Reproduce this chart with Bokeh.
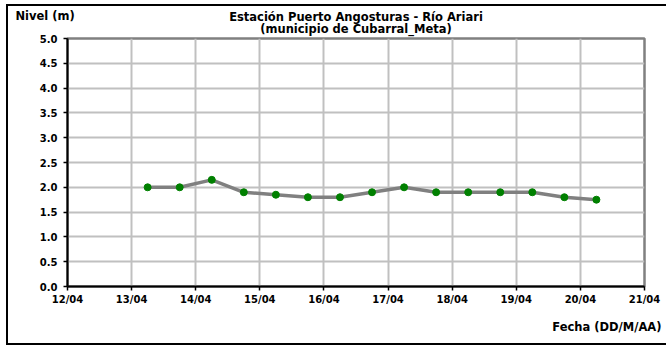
from datetime import datetime
from bokeh.plotting import figure
from bokeh.models import (FixedTicker, DatetimeTickFormatter, NumeralTickFormatter,
                          Title, ColumnDataSource)
from bokeh.embed import file_html
from bokeh.resources import INLINE

# ---- data ----
times = [
    "2021-04-13 06:00", "2021-04-13 18:00", "2021-04-14 06:00", "2021-04-14 18:00",
    "2021-04-15 06:00", "2021-04-15 18:00", "2021-04-16 06:00", "2021-04-16 18:00",
    "2021-04-17 06:00", "2021-04-17 18:00", "2021-04-18 06:00", "2021-04-18 18:00",
    "2021-04-19 06:00", "2021-04-19 18:00", "2021-04-20 06:00",
]
nivel = [2.0, 2.0, 2.15, 1.9, 1.85, 1.8, 1.8, 1.9, 2.0, 1.9, 1.9, 1.9, 1.9, 1.8, 1.75]
tick_days = ["2021-04-12", "2021-04-13", "2021-04-14", "2021-04-15", "2021-04-16",
             "2021-04-17", "2021-04-18", "2021-04-19", "2021-04-20", "2021-04-21"]
y_ticks = [0.0, 0.5, 1.0, 1.5, 2.0, 2.5, 3.0, 3.5, 4.0, 4.5, 5.0]

title1 = "Estación Puerto Angosturas - Río Ariari"
title2 = "(municipio de Cubarral_Meta)"
ylab = "Nivel (m)"
xlab = "Fecha (DD/M/AA)"

FONT = "DejaVu Sans"

EPOCH = datetime(1970, 1, 1)
def to_ms(d):
    return (d - EPOCH).total_seconds() * 1000

t = [datetime.strptime(s, "%Y-%m-%d %H:%M") for s in times]
ticks_dt = [datetime.strptime(s, "%Y-%m-%d") for s in tick_days]
ticks_ms = [to_ms(d) for d in ticks_dt]

src = ColumnDataSource(dict(t=t, nivel=nivel))

W, H = 658, 337
ML, MR, MT, MB = 59, 22, 32, 56
p = figure(width=W, height=H, x_axis_type="datetime",
           x_range=(ticks_dt[0], ticks_dt[-1]), y_range=(0, 5),
           output_backend="svg", toolbar_location=None,
           min_border_left=ML, min_border_right=MR, min_border_top=MT, min_border_bottom=MB)
p.margin = (6, 0, 0, 8)
p.styles = {"outline": "2px solid black"}

p.line("t", "nivel", source=src, line_color="#808080", line_width=3.5)
p.scatter("t", "nivel", source=src, size=7, fill_color="#008000", line_color="#008000")

p.xaxis.ticker = FixedTicker(ticks=ticks_ms)
fmt = "%d/%m"
p.xaxis.formatter = DatetimeTickFormatter(days=fmt, hours=fmt, months=fmt, minutes=fmt,
                                          seconds=fmt, milliseconds=fmt, years=fmt,
                                          minsec=fmt, hourmin=fmt)
p.yaxis.ticker = FixedTicker(ticks=y_ticks)
p.yaxis.formatter = NumeralTickFormatter(format="0.0")

for ax in (p.xaxis, p.yaxis):
    ax.axis_line_color = "black"
    ax.axis_line_width = 2
    ax.major_tick_line_color = "black"
    ax.major_tick_line_width = 1.5
    ax.major_tick_out = 4
    ax.major_tick_in = 0
    ax.minor_tick_line_color = None
    ax.major_label_text_font = FONT
    ax.major_label_text_font_style = "bold"
    ax.major_label_text_font_size = "10px"
    ax.major_label_text_color = "black"
p.xaxis.major_label_standoff = 3
p.yaxis.major_label_standoff = 6

p.grid.grid_line_color = "#c0c0c0"
p.grid.grid_line_width = 2
p.outline_line_color = "#808080"
p.outline_line_width = 2.5

def make_title(text, align, offset, standoff):
    tt = Title(text=text, align=align, offset=offset, standoff=standoff)
    tt.text_font = FONT
    tt.text_font_style = "bold"
    tt.text_font_size = "11.5px"
    tt.text_color = "black"
    tt.text_line_height = 1.2
    return tt

# stacked from the frame outward: line 2, then line 1 and the y label sharing one row
p.add_layout(make_title(title2, "center", 0, 6), "above")
p.add_layout(make_title(title1, "center", 0, -15.5), "above")
p.add_layout(make_title(ylab, "left", -52, -15.5), "above")

p.add_layout(make_title(xlab, "right", -17, 20), "below")

open("out.html", "w").write(file_html(p, INLINE))
